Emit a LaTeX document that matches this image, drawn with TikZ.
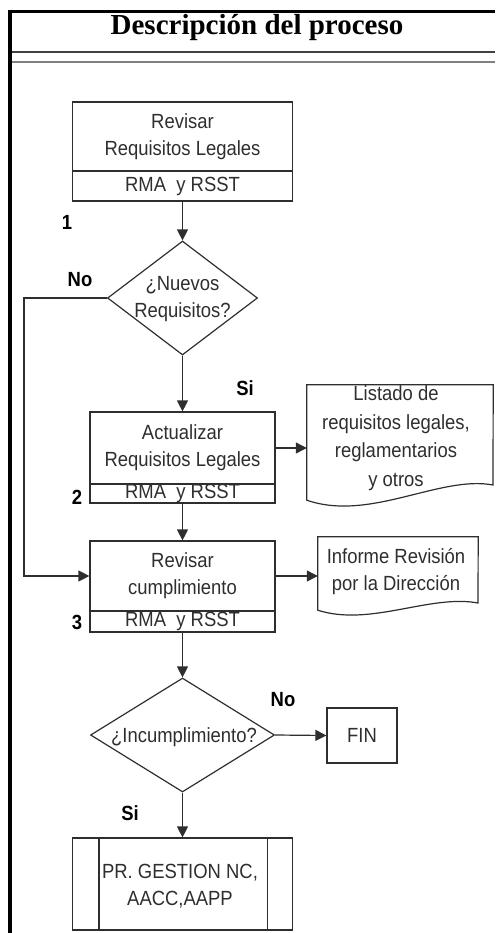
\documentclass[tikz,border=0pt]{standalone}
\usepackage{fontspec}
\setmainfont{Liberation Sans}[FakeStretch=0.9]
\newfontfamily\titlefont{Liberation Serif}
\usetikzlibrary{shapes.geometric,arrows.meta}
\definecolor{ink}{HTML}{2E2E2E}
\begin{document}
\begin{tikzpicture}[x=1pt,y=-1pt,
  ln/.style={draw=ink,line width=1.2pt},
  box/.style={ln,rectangle,inner sep=0pt,font=\fontsize{20.5}{27}\selectfont,text=ink,align=center},
  dia/.style={ln,diamond,inner sep=0pt},
  txt/.style={inner sep=0pt,font=\fontsize{20.5}{27}\selectfont,text=ink,align=center},
  lab/.style={inner sep=0pt,font=\fontsize{20.5}{22}\selectfont\bfseries,text=black},
  arr/.style={ln,-{Triangle[length=11pt,width=11pt]}},
  ghost/.style={rectangle,inner sep=0pt}
]
\useasboundingbox (0,0) rectangle (495,933);
% frame
\draw[line width=4pt] (10,10) -- (10,933);
\draw[line width=3pt] (8,11.5) -- (495,11.5);
\draw[line width=1.5pt,black!75] (12,52) -- (495,52);
\draw[line width=2pt,black!50] (12,62) -- (495,62);
\node[font=\titlefont\bfseries\fontsize{29}{30}\selectfont,anchor=base,inner sep=0pt] (title) at (257,35) {Descripción del proceso};

% step 1
\node[box,minimum width=220pt,minimum height=69pt] (b1) at (182.5,136.5) {Revisar\\Requisitos Legales};
\node[box,minimum width=220pt,minimum height=30pt] (b1r) at (182.5,186) {RMA\ \ y RSST};
\node[lab] (n1) at (67,222) {1};

% decision 1
\node[dia,minimum width=150pt,minimum height=114pt] (d1) at (182.5,298) {};
\node[txt] (d1t) at (182.5,299) {¿Nuevos\\Requisitos?};
\node[lab] (no1) at (80,280) {No};
\node[lab] (si1) at (245,388) {Si};

% step 2
\node[box,minimum width=185pt,minimum height=72pt] (b2) at (182.5,448) {Actualizar\\Requisitos Legales};
\node[box,minimum width=185pt,minimum height=19pt] (b2r) at (182.5,493.5) {RMA\ \ y RSST};
\node[lab] (n2) at (77,497) {2};

% doc 1
\node[ghost,minimum width=186pt,minimum height=115pt] (doc1) at (400,442.5) {};
\draw[ln] (doc1.south west) -- (doc1.north west) -- (doc1.north east) -- (493,485)
  .. controls (440,475) and (370,522) .. (doc1.south west) -- cycle;
\node[txt,font=\fontsize{20.5}{28.5}\selectfont] (doc1t) at (396,438) {Listado de\\requisitos legales,\\reglamentarios\\y otros};

% step 3
\node[box,minimum width=185pt,minimum height=70pt] (b3) at (182.5,576) {Revisar\\cumplimiento};
\node[box,minimum width=185pt,minimum height=21pt] (b3r) at (182.5,621.5) {RMA\ \ y RSST};
\node[lab] (n3) at (77,622) {3};

% doc 2
\node[ghost,minimum width=160pt,minimum height=73pt] (doc2) at (398,573.5) {};
\draw[ln] (doc2.south west) -- (doc2.north west) -- (doc2.north east) -- (478,603)
  .. controls (430,594) and (370,627) .. (doc2.south west) -- cycle;
\node[txt] (doc2t) at (396,572) {Informe Revisión\\por la Dirección};

% decision 2
\node[dia,minimum width=184pt,minimum height=114pt] (d2) at (182.5,735) {};
\node[txt] (d2t) at (184,737) {¿Incumplimiento?};
\node[lab] (no2) at (283,700) {No};
\node[lab] (si2) at (130,813) {Si};

% FIN
\node[box,minimum width=70pt,minimum height=55pt] (fin) at (362,735.5) {FIN};

% subprocess
\node[box,minimum width=220pt,minimum height=92pt] (sp) at (182.5,884) {};
\draw[ln] ([xshift=27pt]sp.north west) -- ([xshift=27pt]sp.south west);
\draw[ln] ([xshift=-26pt]sp.north east) -- ([xshift=-26pt]sp.south east);
\node[txt] (spt) at (180,886) {PR. GESTION NC,\\AACC,AAPP};

% connectors
\draw[arr] (b1r.south) -- (d1.north);
\draw[arr] (d1.south) -- (b2.north);
\draw[arr] (b2r.south) -- (b3.north);
\draw[arr] (b3r.south) -- (d2.north);
\draw[arr] (d2.south) -- (sp.north);
\draw[arr] (d2.east) -- (fin.west);
\draw[arr] (b2.east) -- (b2.east -| doc1.west);
\draw[arr] (b3.east) -- (b3.east -| doc2.west);
\coordinate (nl) at (24,576);
\draw[arr] (d1.west) -| (nl) -- (b3.west);
\end{tikzpicture}
\end{document}
